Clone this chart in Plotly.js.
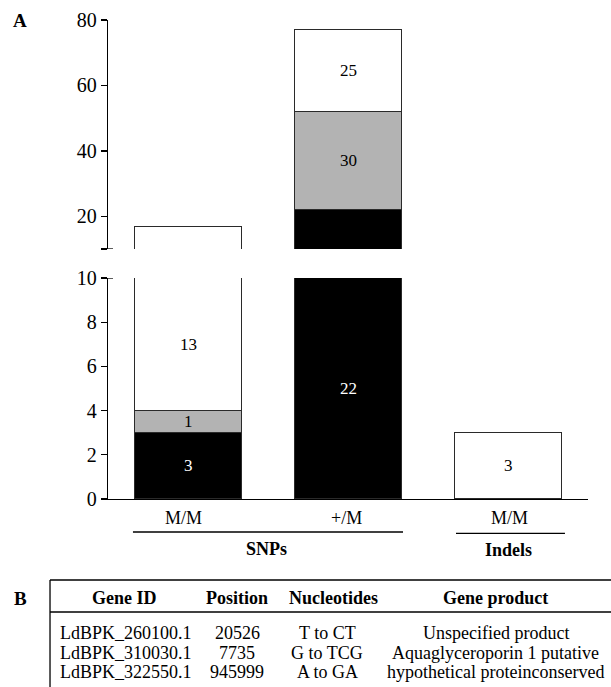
<!DOCTYPE html>
<html>
<head>
<meta charset="utf-8">
<script src="https://cdn.plot.ly/plotly-3.0.1.min.js"></script>
<style>html,body{margin:0;padding:0;background:#fff;}#chart{width:611px;height:687px;}</style>
</head>
<body>
<div id="chart"></div>
<script>
// ---- data ----
const categories = ['M/M', '+/M', 'M/M'];
const groupNames = ['SNPs', 'Indels'];
const blackVals = [3, 22, null];
const grayVals = [1, 30, null];
const whiteVals = [13, 25, 3];
const lowerTicks = [0, 2, 4, 6, 8, 10];
const upperTicks = [20, 40, 60, 80];

const geneIds = ['LdBPK_260100.1', 'LdBPK_310030.1', 'LdBPK_322550.1'];
const positions = ['20526', '7735', '945999'];
const nucleotides = ['T to CT', 'G to TCG', 'A to GA'];
const products = ['Unspecified product', 'Aquaglyceroporin 1 putative', 'hypothetical proteinconserved'];
const tableHeader = ['Gene ID', 'Position', 'Nucleotides', 'Gene product'];

// ---- layout constants ----
const barIdx = categories.map((_, i) => i);
const lowerRange = [0, 10];
const upperRange = [10, 80];
const FONT = "'Liberation Serif', 'Times New Roman', serif";
const colors = {black: '#000000', gray: '#b3b3b3', white: '#ffffff'};
const outline = {color: '#2a2a2a', width: 1};

const series = [
  {vals: blackVals, color: colors.black, txt: '#ffffff'},
  {vals: grayVals, color: colors.gray, txt: '#000000'},
  {vals: whiteVals, color: colors.white, txt: '#000000'}
];

const traces = [];
['y', 'y2'].forEach(ax => {
  series.forEach(s => {
    traces.push({
      type: 'bar', x: barIdx, y: s.vals, xaxis: 'x', yaxis: ax,
      marker: {color: s.color, line: outline},
      hoverinfo: 'skip', showlegend: false
    });
  });
});

function txt(o) {
  return Object.assign({showarrow: false, xanchor: 'center', yanchor: 'middle'}, o);
}

// value labels: placed at the middle of the visible part, lower panel preferred
const annotations = [];
barIdx.forEach((xv, i) => {
  let base = 0;
  series.forEach(s => {
    const v = s.vals[i];
    if (v == null) return;
    const top = base + v;
    let ax, lo, hi;
    if (base < lowerRange[1]) { ax = 'y'; lo = Math.max(base, lowerRange[0]); hi = Math.min(top, lowerRange[1]); }
    else { ax = 'y2'; lo = Math.max(base, upperRange[0]); hi = Math.min(top, upperRange[1]); }
    annotations.push(txt({x: xv, y: (lo + hi) / 2, xref: 'x', yref: ax, text: String(v),
      font: {family: FONT, size: 17, color: s.txt}}));
    base = top;
  });
});

// category labels
const catShift = [-5, -2, 1];
categories.forEach((c, i) => {
  annotations.push(txt({x: barIdx[i], y: -0.0397, xref: 'x', yref: 'paper', text: c,
    xshift: catShift[i], font: {family: FONT, size: 18, color: '#000'}}));
});
// group labels
annotations.push(txt({x: 0.4875, y: -0.1044, xref: 'x', yref: 'paper', text: '<b>' + groupNames[0] + '</b>',
  font: {family: FONT, size: 18, color: '#000'}}));
annotations.push(txt({x: 2.006, y: -0.1065, xref: 'x', yref: 'paper', text: '<b>' + groupNames[1] + '</b>',
  font: {family: FONT, size: 18, color: '#000'}}));
// panel letters
annotations.push(txt({x: -0.1833, y: 1.0, xref: 'paper', yref: 'paper', text: '<b>A</b>',
  font: {family: FONT, size: 19, color: '#000'}}));
annotations.push(txt({x: -0.1833, y: -0.2067, xref: 'paper', yref: 'paper', text: '<b>B</b>',
  font: {family: FONT, size: 19, color: '#000'}}));

// table
const headX = [0.0354, 0.2688, 0.4688, 0.8083];
const valX = [-0.1042, 0.2688, 0.4563, 0.8083];
const rowY = [-0.2797, -0.3215, -0.3612];
const TF = {family: FONT, size: 18, color: '#000'};
tableHeader.forEach((h, j) => {
  annotations.push(txt({x: headX[j], y: -0.2067, xref: 'paper', yref: 'paper', text: '<b>' + h + '</b>', font: TF}));
});
geneIds.forEach((g, i) => {
  annotations.push(txt({x: valX[0], y: rowY[i], xref: 'paper', yref: 'paper', xanchor: 'left', text: g, font: TF}));
  annotations.push(txt({x: valX[1], y: rowY[i], xref: 'paper', yref: 'paper', text: positions[i], font: TF}));
  annotations.push(txt({x: valX[2], y: rowY[i], xref: 'paper', yref: 'paper', text: nucleotides[i], font: TF}));
  annotations.push(txt({x: valX[3], y: rowY[i], xref: 'paper', yref: 'paper', text: products[i], font: TF}));
});

const lineStyle = {color: '#000', width: 1.3};
const shapes = [
  // axis break nubs
  {type: 'line', xref: 'x', xsizemode: 'pixel', xanchor: -0.5, x0: 0, x1: 5, yref: 'y2', y0: 10, y1: 10, line: lineStyle},
  {type: 'line', xref: 'x', xsizemode: 'pixel', xanchor: -0.5, x0: 0, x1: 5, yref: 'y', y0: 10, y1: 10, line: lineStyle},
  // group underlines
  {type: 'line', xref: 'x', yref: 'paper', x0: -0.344, x1: 1.344, y0: -0.0689, y1: -0.0689, line: lineStyle},
  {type: 'line', xref: 'x', yref: 'paper', x0: 1.675, x1: 2.356, y0: -0.0717, y1: -0.0717, line: lineStyle},
  // table borders
  {type: 'line', xref: 'paper', yref: 'paper', x0: -0.1208, x1: 1.2, y0: -0.1691, y1: -0.1691, line: lineStyle},
  {type: 'line', xref: 'paper', yref: 'paper', x0: -0.1208, x1: 1.2, y0: -0.2359, y1: -0.2359, line: lineStyle},
  {type: 'line', xref: 'paper', yref: 'paper', x0: -0.1208, x1: -0.1208, y0: -0.1691, y1: -0.45, line: lineStyle}
];

const axisCommon = {
  showline: true, linecolor: '#000', linewidth: 1.3, ticks: 'outside', ticklen: 6, tickwidth: 1.3, tickcolor: '#000',
  showgrid: false, zeroline: false, fixedrange: true,
  tickfont: {family: FONT, size: 20, color: '#000'}
};

const layout = {
  width: 611, height: 687,
  margin: {l: 108, r: 23, t: 20, b: 188, pad: 0},
  paper_bgcolor: '#fff', plot_bgcolor: '#fff',
  barmode: 'stack', bargap: 0.336,
  showlegend: false,
  font: {family: FONT, color: '#000'},
  xaxis: {range: [-0.5, 2.5], showline: true, linecolor: '#000', linewidth: 1.3, ticks: '', showticklabels: false,
    showgrid: false, zeroline: false, fixedrange: true, anchor: 'y'},
  yaxis: Object.assign({}, axisCommon, {domain: [0, 0.4614], range: lowerRange, tickvals: lowerTicks, anchor: 'x'}),
  yaxis2: Object.assign({}, axisCommon, {domain: [0.5219, 1], range: upperRange,
    tickvals: [upperRange[0]].concat(upperTicks), ticktext: [''].concat(upperTicks.map(String)), anchor: 'x'}),
  annotations: annotations,
  shapes: shapes
};

Plotly.newPlot('chart', traces, layout, {displayModeBar: false, staticPlot: true});
</script>
</body>
</html>
